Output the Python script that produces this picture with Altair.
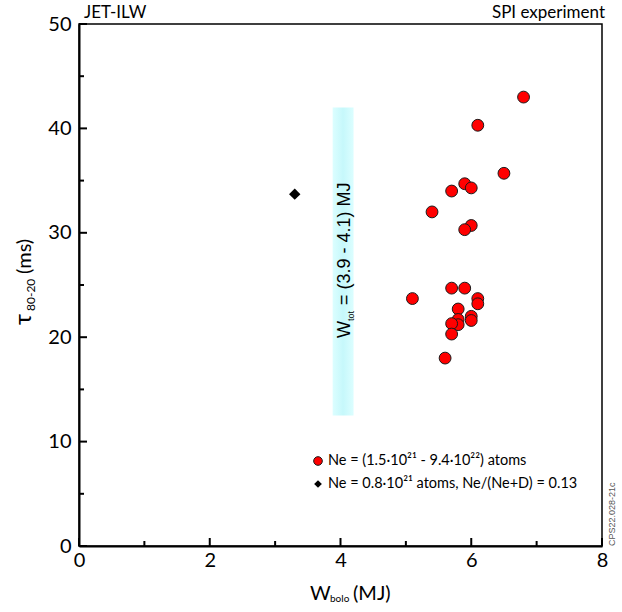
import altair as alt
import pandas as pd

# ---------------- data ----------------
red_w = [6.8, 6.1, 6.5, 5.9, 6.0, 5.7, 5.4, 6.0, 5.9, 5.7, 5.9, 5.1, 6.1, 6.1, 5.8, 5.8, 5.8, 5.7, 6.0, 6.0, 5.7, 5.6]
red_tau = [43.0, 40.3, 35.7, 34.7, 34.3, 34.0, 32.0, 30.7, 30.3, 24.7, 24.7, 23.7, 23.7, 23.2, 22.7, 21.7, 21.2, 21.3, 22.0, 21.6, 20.3, 18.0]
black_w = [3.3]
black_tau = [33.7]
band_w = [3.88, 4.2]
band_tau = [12.5, 42.0]
x_major = [0, 2, 4, 6, 8]
x_minor = [1, 3, 5, 7]
y_major = [0, 10, 20, 30, 40, 50]
y_minor = [5, 15, 25, 35, 45]
legend_lines = ["Ne = (1.5·10²¹ - 9.4·10²²) atoms", "Ne = 0.8·10²¹ atoms, Ne/(Ne+D)  = 0.13"]

W, H = 523, 522
XS = alt.Scale(domain=[0, 8], nice=False, zero=False)
YS = alt.Scale(domain=[0, 50], nice=False, zero=False)

AX = alt.Axis(values=x_major, title=None, ticks=False, grid=False,
              labelFont="Lato", labelFontSize=20, labelColor="black",
              labelPadding=4, labelFlush=False, domainColor="black",
              domainWidth=2, format="d")
AY = alt.Axis(values=y_major, title=None, ticks=False, grid=False,
              labelFont="Lato", labelFontSize=20, labelColor="black",
              labelPadding=8, labelFlush=False, domainColor="black",
              domainWidth=2, format="d")


def X(f="x"):
    return alt.X(f"{f}:Q", scale=XS, axis=AX, title=None)


def Y(f="y"):
    return alt.Y(f"{f}:Q", scale=YS, axis=AY, title=None)


red_df = pd.DataFrame({"x": red_w, "y": red_tau})
blk_df = pd.DataFrame({"x": black_w, "y": black_tau})
band_df = pd.DataFrame({"x": [band_w[0]], "x2": [band_w[1]], "y": [band_tau[0]], "y2": [band_tau[1]]})

band = alt.Chart(band_df).mark_rect(
    fill=alt.Gradient(gradient="linear", x1=0, x2=1, y1=0, y2=0,
                      stops=[alt.GradientStop(color="#dcfeff", offset=0),
                             alt.GradientStop(color="#c6f8fb", offset=0.5),
                             alt.GradientStop(color="#dcfeff", offset=1)])
).encode(x=X(), x2="x2", y=Y(), y2="y2")


def xticks(vals, ln):
    return alt.Chart(pd.DataFrame({"x": vals})).mark_rule(color="black", strokeWidth=2).encode(
        x=X(), y=alt.value(H), y2=alt.value(H - ln))


def yticks(vals, ln):
    return alt.Chart(pd.DataFrame({"y": vals})).mark_rule(color="black", strokeWidth=2).encode(
        y=Y(), x=alt.value(0), x2=alt.value(ln))


red_pts = alt.Chart(red_df).mark_circle(color="#ff0000", stroke="#1a1a1a", strokeWidth=1, size=140, opacity=1).encode(
    x=X(), y=Y())
blk_pts = alt.Chart(blk_df).mark_point(shape="diamond", filled=True, color="black", size=130, opacity=1).encode(
    x=X(), y=Y())


def label(txt, px, py, size, font="Lato", align="left", angle=0, baseline="alphabetic", color="black"):
    kw = dict(align=align, baseline=baseline, fontSize=size, font=font, color=color)
    if angle:
        kw["angle"] = angle
    return alt.Chart(pd.DataFrame({"t": [txt]})).mark_text(**kw).encode(
        x=alt.value(px), y=alt.value(py), text="t:N")


leg_red = alt.Chart(pd.DataFrame({"t": [0]})).mark_circle(color="#ff0000", stroke="#1a1a1a", strokeWidth=1, size=75, opacity=1).encode(
    x=alt.value(239), y=alt.value(437))
leg_blk = alt.Chart(pd.DataFrame({"t": [0]})).mark_point(shape="diamond", filled=True, color="black", size=60, opacity=1).encode(
    x=alt.value(239), y=alt.value(460))

layers = [
    band,
    xticks(x_major, 8), xticks(x_minor, 5), yticks(y_major, 8), yticks(y_minor, 5),
    blk_pts, red_pts, leg_red, leg_blk,
    label(legend_lines[0], 249, 437, 14.5, baseline="middle"),
    label(legend_lines[1], 249, 460, 14.5, baseline="middle"),
    label("JET-ILW", 5, -6, 17),
    label("SPI experiment", 526, -6, 17, align="right"),
    # band text
    label("W", 271, 314, 18, font="Liberation Sans", angle=270),
    label("tot", 275, 297, 9, font="Liberation Sans", angle=270),
    label("= (3.9 - 4.1) MJ", 271, 281, 18, font="Liberation Sans", angle=270),
    # y title
    label("τ", -48, 301, 24, angle=270),
    label("80-20", -44, 287, 12, angle=270),
    label("(ms)", -48, 250, 20, angle=270),
    # x title
    label("W", 231, 576, 20),
    label("bolo", 251, 578, 10),
    label("(MJ)", 274, 576, 20),
    # side code
    label("CPS22.028-21c", 536, 522, 9, font="Liberation Sans", angle=270, color="#555555"),
]

chart = alt.layer(*layers).properties(
    width=W, height=H,
    autosize=alt.AutoSizeParams(type="none"),
    padding={"left": 79, "top": 24, "right": 20, "bottom": 66},
).configure_view(stroke="black", strokeWidth=1.5)

chart.save("out.html", embed_options={"renderer": "svg", "actions": False})
